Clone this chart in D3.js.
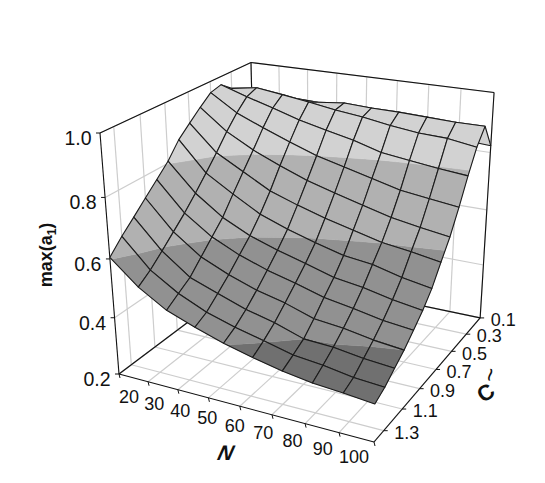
<!DOCTYPE html>
<html>
<head>
<meta charset="utf-8">
<style>
  html, body { margin: 0; background: #fff; }
  text { font-family: "Liberation Sans", Arial, sans-serif; fill: #111; }
</style>
<script src="https://cdn.jsdelivr.net/npm/d3@7"></script>
</head>
<body>
<svg id="chart" width="545" height="483"></svg>
<script>
const nGrid = [20, 28.89, 37.78, 46.67, 55.56, 64.44, 73.33, 82.22, 91.11, 100];
const cGrid = [0.1, 0.2, 0.3, 0.4, 0.5, 0.6, 0.7, 0.8, 0.9, 1.0, 1.1, 1.2, 1.3, 1.4];

// one row per cGrid value, one column per nGrid value
const zRows = [
  [0.81, 0.82, 0.824, 0.826, 0.826, 0.828, 0.83, 0.833, 0.829, 0.823],
  [0.89, 0.922, 0.915, 0.912, 0.922, 0.917, 0.916, 0.912, 0.908, 0.908],
  [0.942, 0.956, 0.944, 0.931, 0.916, 0.905, 0.89, 0.878, 0.874, 0.859],
  [0.972, 0.942, 0.916, 0.888, 0.866, 0.846, 0.819, 0.807, 0.795, 0.786],
  [0.962, 0.905, 0.867, 0.832, 0.80, 0.776, 0.753, 0.729, 0.717, 0.705],
  [0.93, 0.86, 0.811, 0.772, 0.737, 0.71, 0.685, 0.661, 0.645, 0.631],
  [0.895, 0.808, 0.758, 0.708, 0.676, 0.648, 0.625, 0.602, 0.589, 0.573],
  [0.859, 0.76, 0.704, 0.652, 0.618, 0.59, 0.565, 0.554, 0.53, 0.513],
  [0.807, 0.714, 0.648, 0.603, 0.572, 0.546, 0.518, 0.504, 0.484, 0.469],
  [0.767, 0.67, 0.606, 0.563, 0.531, 0.506, 0.479, 0.463, 0.444, 0.434],
  [0.728, 0.631, 0.564, 0.523, 0.491, 0.468, 0.437, 0.427, 0.41, 0.40],
  [0.688, 0.592, 0.522, 0.488, 0.455, 0.432, 0.40, 0.395, 0.381, 0.373],
  [0.649, 0.555, 0.496, 0.454, 0.425, 0.403, 0.378, 0.368, 0.352, 0.345],
  [0.605, 0.526, 0.469, 0.434, 0.403, 0.379, 0.358, 0.343, 0.336, 0.326],
];

const nTicks = [20, 30, 40, 50, 60, 70, 80, 90, 100];
const cTicks = [0.1, 0.3, 0.5, 0.7, 0.9, 1.1, 1.3];
const zTicks = [0.2, 0.4, 0.6, 0.8, 1.0];

const bandEdges = [0.2, 0.4, 0.6, 0.8, 1.0];
const bandColors = ["#707070", "#919191", "#b1b1b1", "#d2d2d2"];

const uScale = d3.scaleLinear().domain([20, 100]).range([0, 1]);
const vScale = d3.scaleLinear().domain([1.4, 0.1]).range([0, 1]);
const wScale = d3.scaleLinear().domain([0.2, 1.0]).range([0, 1]);

// box corners on the page and the perspective weight of each axis
const origin = [119, 374];
const cornerN = [374, 442];
const cornerC = [256, 271];
const cornerZ = [100, 133];
const weights = [0.9, 1.185, 0.9135];

function axisTerm(corner, weight) {
  return [
    corner[0] * weight - origin[0],
    corner[1] * weight - origin[1],
    weight - 1,
  ];
}
const termN = axisTerm(cornerN, weights[0]);
const termC = axisTerm(cornerC, weights[1]);
const termZ = axisTerm(cornerZ, weights[2]);

function project(n, c, z) {
  const u = uScale(n);
  const v = vScale(c);
  const w = wScale(z);
  const h = 1 + u * termN[2] + v * termC[2] + w * termZ[2];
  return [
    (origin[0] + u * termN[0] + v * termC[0] + w * termZ[0]) / h,
    (origin[1] + u * termN[1] + v * termC[1] + w * termZ[1]) / h,
  ];
}

const svg = d3.select("#chart");
const line = d3.line();

function seg(p1, p2, stroke, width, parent) {
  parent
    .append("path")
    .attr("d", line([p1, p2]))
    .attr("fill", "none")
    .attr("stroke", stroke)
    .attr("stroke-width", width);
}

// walls and floor
const grid = svg.append("g").attr("class", "grid");
const gridColor = "#cdcdcd";
const nMin = 20, nMax = 100, cMin = 0.1, cMax = 1.4, zMin = 0.2, zMax = 1.0;

nTicks.forEach((n) => {
  seg(project(n, cMin, zMin), project(n, cMin, zMax), gridColor, 1.2, grid);
  seg(project(n, cMin, zMin), project(n, cMax, zMin), gridColor, 1.2, grid);
});
cTicks.forEach((c) => {
  seg(project(nMin, c, zMin), project(nMin, c, zMax), gridColor, 1.2, grid);
  seg(project(nMin, c, zMin), project(nMax, c, zMin), gridColor, 1.2, grid);
});
zTicks.forEach((z) => {
  seg(project(nMin, cMin, z), project(nMin, cMax, z), gridColor, 1.2, grid);
  seg(project(nMin, cMin, z), project(nMax, cMin, z), gridColor, 1.2, grid);
});

const frame = svg.append("g").attr("class", "frame");
[
  [[nMin, cMax, zMin], [nMax, cMax, zMin]],
  [[nMax, cMax, zMin], [nMax, cMin, zMin]],
  [[nMax, cMin, zMin], [nMin, cMin, zMin]],
  [[nMin, cMin, zMin], [nMin, cMax, zMin]],
  [[nMin, cMax, zMin], [nMin, cMax, zMax]],
  [[nMin, cMin, zMin], [nMin, cMin, zMax]],
  [[nMax, cMin, zMin], [nMax, cMin, zMax]],
  [[nMin, cMax, zMax], [nMin, cMin, zMax]],
  [[nMin, cMin, zMax], [nMax, cMin, zMax]],
].forEach((e) => seg(project(...e[0]), project(...e[1]), "#111", 1.1, frame));

// keep the part of a cell that lies inside one z band
function clipBand(corners, lo, hi) {
  function clip(poly, inside, level) {
    const out = [];
    poly.forEach((p, i) => {
      const q = poly[(i + 1) % poly.length];
      if (inside(p)) out.push(p);
      if (inside(p) !== inside(q)) {
        const t = (level - p[2]) / (q[2] - p[2]);
        out.push([
          p[0] + t * (q[0] - p[0]),
          p[1] + t * (q[1] - p[1]),
          level,
        ]);
      }
    });
    return out;
  }
  let poly = clip(corners, (p) => p[2] >= lo, lo);
  if (poly.length) poly = clip(poly, (p) => p[2] <= hi, hi);
  return poly;
}

// back to front: low c first, then growing n
const surface = svg.append("g").attr("class", "surface");
cGrid.slice(0, -1).forEach((c, r) => {
  nGrid.slice(0, -1).forEach((n, i) => {
    const corners = [
      [n, c, zRows[r][i]],
      [nGrid[i + 1], c, zRows[r][i + 1]],
      [nGrid[i + 1], cGrid[r + 1], zRows[r + 1][i + 1]],
      [n, cGrid[r + 1], zRows[r + 1][i]],
    ];
    bandColors.forEach((color, b) => {
      const poly = clipBand(corners, bandEdges[b], bandEdges[b + 1]);
      if (poly.length < 3) return;
      surface
        .append("path")
        .attr("d", line(poly.map((p) => project(p[0], p[1], p[2]))) + "Z")
        .attr("fill", color)
        .attr("stroke", color)
        .attr("stroke-width", 0.4);
    });
    surface
      .append("path")
      .attr("d", line(corners.map((p) => project(p[0], p[1], p[2]))) + "Z")
      .attr("fill", "none")
      .attr("stroke", "#1a1a1a")
      .attr("stroke-width", 1.1)
      .attr("stroke-linejoin", "round");
  });
});

// ticks and labels
const axes = svg.append("g").attr("class", "axes");
const nOffsetX = d3.scaleLinear().domain([20, 100]).range([10, -20]);
const nOffsetY = d3.scaleLinear().domain([20, 100]).range([23, 15]);

nTicks.forEach((n) => {
  const p = project(n, cMax, zMin);
  seg(p, [p[0] + 1, p[1] + 4], "#111", 1, axes);
  axes
    .append("text")
    .attr("x", p[0] + nOffsetX(n))
    .attr("y", p[1] + nOffsetY(n))
    .attr("dy", "0.35em")
    .attr("text-anchor", "middle")
    .attr("font-size", 18)
    .text(n);
});
cTicks.forEach((c) => {
  const p = project(nMax, c, zMin);
  seg(p, [p[0] + 4, p[1]], "#111", 1, axes);
  axes
    .append("text")
    .attr("x", p[0] + 23)
    .attr("y", p[1] + 2)
    .attr("dy", "0.35em")
    .attr("text-anchor", "middle")
    .attr("font-size", 18)
    .text(d3.format(".1f")(c));
});
zTicks.forEach((z) => {
  const p = project(nMin, cMax, z);
  seg(p, [p[0] - 4, p[1]], "#111", 1, axes);
  axes
    .append("text")
    .attr("x", p[0] - 22)
    .attr("y", p[1] + 5)
    .attr("dy", "0.35em")
    .attr("text-anchor", "middle")
    .attr("font-size", 19.5)
    .text(d3.format(".1f")(z));
});

// axis titles
const yTitle = axes
  .append("text")
  .attr("transform", "translate(52,255) rotate(-90)")
  .attr("text-anchor", "middle")
  .attr("font-size", 18)
  .attr("font-weight", "bold");
yTitle.append("tspan").text("max(a");
yTitle.append("tspan").attr("font-size", 12).attr("dy", 4).text("1");
yTitle.append("tspan").attr("dy", -4).text(")");

axes
  .append("text")
  .attr("transform", "translate(224,460) skewX(-14)")
  .attr("text-anchor", "middle")
  .attr("font-size", 21)
  .attr("font-weight", "bold")
  .attr("font-style", "italic")
  .text("N");

axes
  .append("text")
  .attr("transform", "translate(490,399) rotate(-35)")
  .attr("text-anchor", "middle")
  .attr("font-size", 22)
  .attr("font-weight", "bold")
  .text("C");
axes
  .append("text")
  .attr("transform", "translate(498,376) rotate(-80)")
  .attr("text-anchor", "middle")
  .attr("font-size", 24)
  .text("~");
</script>
</body>
</html>
